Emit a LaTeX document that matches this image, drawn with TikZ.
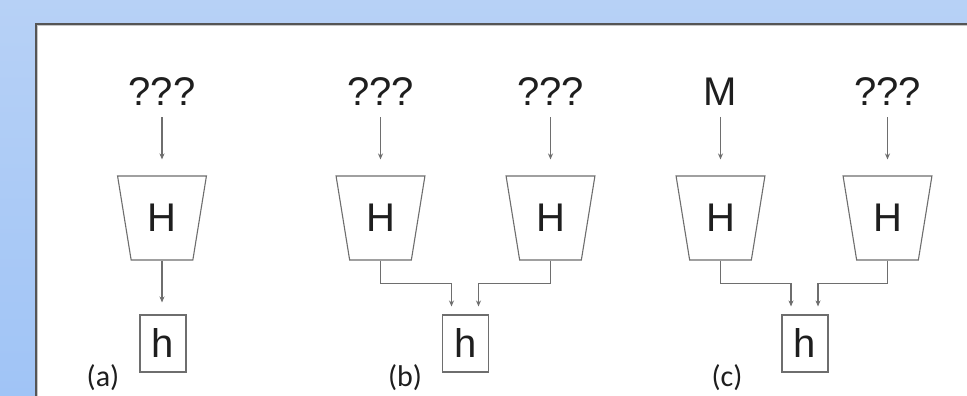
\documentclass[tikz,border=0pt]{standalone}
\usepackage{fontspec}
\setmainfont{Liberation Sans}
\newfontfamily\capfont{Carlito}
\usetikzlibrary{shapes.geometric,arrows.meta}
\definecolor{bgtop}{HTML}{B7D1F6}
\definecolor{bgbot}{HTML}{A0C4F6}
\definecolor{ln}{HTML}{6E6E6E}
\definecolor{ink}{HTML}{1E1E1E}
\definecolor{edge}{HTML}{555555}
\begin{document}
\begin{tikzpicture}[x=1pt,y=-1pt,
  lbl/.style={font=\fontsize{40}{40}\selectfont, text=ink, inner sep=0pt},
  hbox/.style={draw=ln, line width=1.1pt, trapezium, trapezium stretches=true,
    trapezium angle=77, shape border rotate=180, minimum width=89pt,
    minimum height=84pt, inner sep=0pt, font=\fontsize{40}{40}\selectfont, text=ink},
  obox/.style={draw=ln, line width=1.1pt, minimum width=46pt, minimum height=57pt,
    inner sep=0pt, font=\fontsize{40}{40}\selectfont, text=ink},
  caplbl/.style={font=\capfont\fontsize{30}{30}\selectfont, text=ink, inner sep=0pt},
  conn/.style={draw=ln, line width=1.1pt, -{Stealth[length=6pt,width=5pt]}}]
\useasboundingbox (0,0) rectangle (967,396);
% background
\shade[top color=bgtop, bottom color=bgbot] (0,0) rectangle (967,396);
\fill[white] (35,23) rectangle (967,396);
\draw[edge, line width=1.6pt] (35.8,396) -- (35.8,23.8) -- (967,23.8);
\draw[gray!45, line width=1pt] (37.8,396) -- (37.8,25.8) -- (967,25.8);

% (a)
\node[lbl] (qa) at (162,92) {???};
\node[hbox] (Ha) at (162,218) {H};
\node[obox] (ha) at (163,343.5) {h};
\node[caplbl] (la) at (103,378) {(a)};
\draw[conn, shorten <=11pt, shorten >=16pt] (qa) -- (Ha);
\draw[conn, shorten >=12pt] (Ha.south) -- (Ha.south |- ha.north);

% (b)
\node[lbl] (qb1) at (380.5,92) {???};
\node[lbl] (qb2) at (550.5,92) {???};
\node[hbox] (Hb1) at (380.5,218) {H};
\node[hbox] (Hb2) at (550.5,218) {H};
\node[obox] (hb) at (465.5,343.5) {h};
\node[caplbl] (lb) at (405,378) {(b)};
\draw[conn, shorten <=11pt, shorten >=16pt] (qb1) -- (Hb1);
\draw[conn, shorten <=11pt, shorten >=16pt] (qb2) -- (Hb2);
\draw[conn, shorten >=8pt] (Hb1.south) -- ++(0,23) -| ([xshift=-14pt]hb.north);
\draw[conn, shorten >=8pt] (Hb2.south) -- ++(0,23) -| ([xshift=13pt]hb.north);

% (c)
\node[lbl] (mc) at (720.5,92) {M};
\node[lbl] (qc) at (887.5,92) {???};
\node[hbox] (Hc1) at (720.5,218) {H};
\node[hbox] (Hc2) at (887.5,218) {H};
\node[obox] (hc) at (805,343.5) {h};
\node[caplbl] (lc) at (727,378) {(c)};
\draw[conn, shorten <=11pt, shorten >=16pt] (mc) -- (Hc1);
\draw[conn, shorten <=11pt, shorten >=16pt] (qc) -- (Hc2);
\draw[conn, shorten >=8pt] (Hc1.south) -- ++(0,23) -| ([xshift=-14pt]hc.north);
\draw[conn, shorten >=8pt] (Hc2.south) -- ++(0,23) -| ([xshift=13pt]hc.north);
\end{tikzpicture}
\end{document}
